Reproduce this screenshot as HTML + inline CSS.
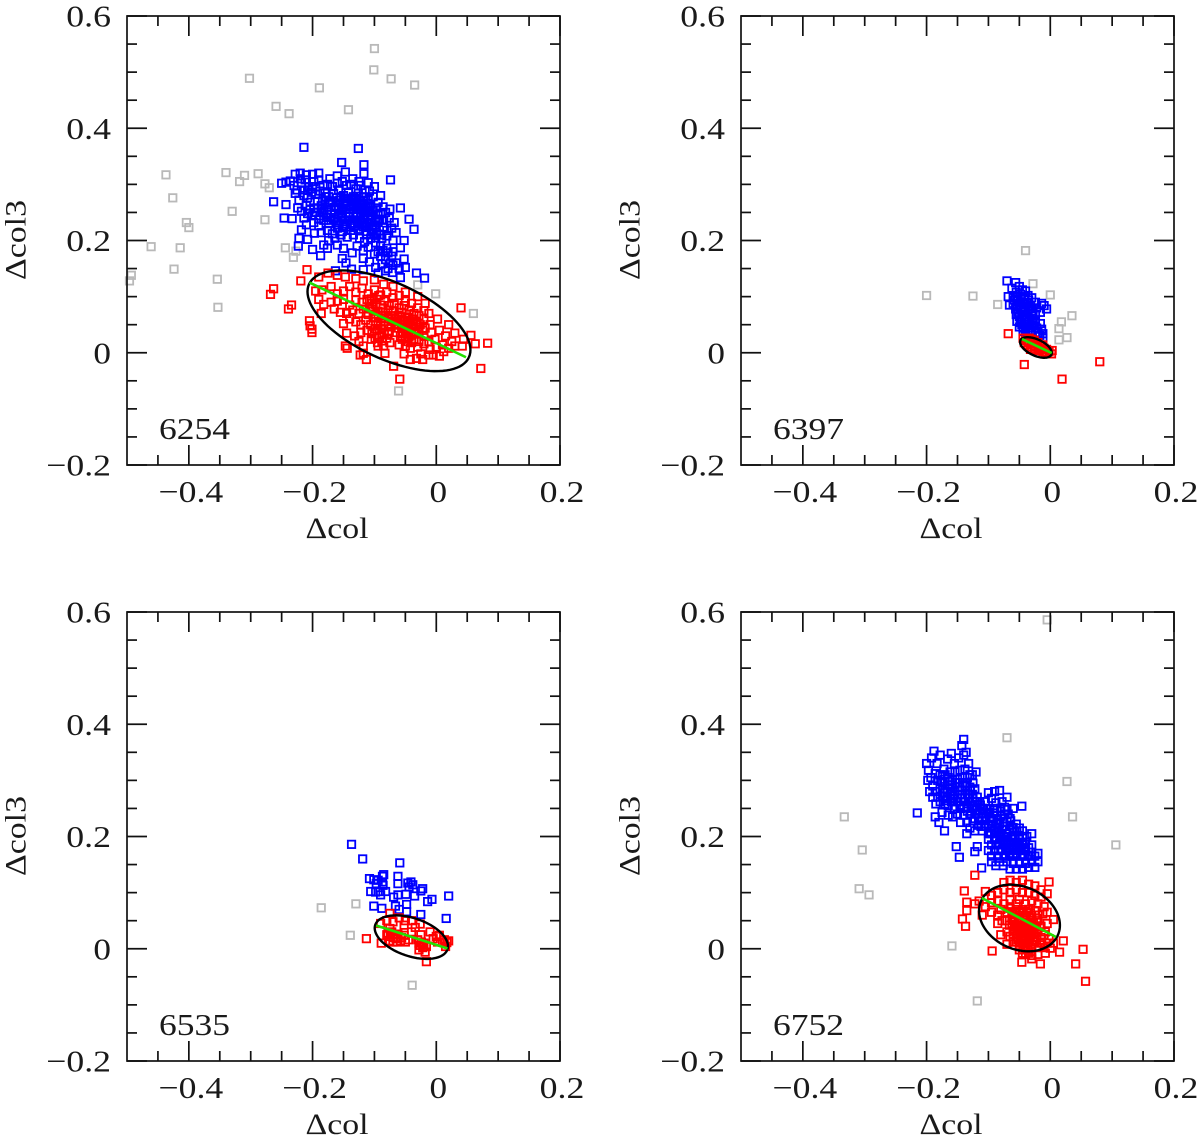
<!DOCTYPE html>
<html>
<head>
<meta charset="utf-8">
<title>Four-panel colour-colour scatter</title>
<style>
html,body{margin:0;padding:0;background:#fff}
svg{display:block;filter:blur(0.35px)}
text{font-family:"Liberation Serif",serif;fill:#1a1a1a}
</style>
</head>
<body>
<svg id="chart" xmlns="http://www.w3.org/2000/svg" width="1200" height="1139" viewBox="0 0 1200 1139"></svg>
<script>
const xTickValues = [-0.4, -0.2, 0, 0.2];
const xTickLabels = ["\u22120.4", "\u22120.2", "0", "0.2"];
const yTickValues = [-0.2, 0, 0.2, 0.4, 0.6];
const yTickLabels = ["\u22120.2", "0", "0.2", "0.4", "0.6"];
const xMinorTicks = [-0.45,-0.35,-0.3,-0.25,-0.15,-0.1,-0.05,0.05,0.1,0.15];
const yMinorTicks = [-0.15,-0.1,-0.05,0.05,0.1,0.15,0.25,0.3,0.35,0.45,0.5,0.55];
const xDomain = [-0.5, 0.2];
const yDomain = [-0.2, 0.6];
const panelNames = ["6254", "6397", "6535", "6752"];

const gray6254 = [[-.1,.542],[-.101,.504],[-.073,.488],[-.035,.477],[-.302,.489],[-.189,.472],[-.259,.439],[-.238,.426],[-.142,.433],[-.437,.317],[-.34,.321],[-.31,.316],[-.288,.319],[-.318,.305],[-.277,.301],[-.27,.294],[-.426,.276],[-.33,.252],[-.277,.237],[-.404,.232],[-.4,.223],[-.461,.189],[-.414,.187],[-.244,.187],[-.227,.181],[-.231,.17],[-.424,.149],[-.493,.138],[-.496,.128],[-.354,.131],[-.353,.081],[-.03,.121],[-.001,.105],[.06,.07],[-.061,-.068]];
const blue6254 = [[-.214,.366],[-.126,.364],[-.153,.339],[-.117,.335],[-.117,.319],[-.074,.308],[-.263,.269],[-.243,.264],[-.246,.24],[-.233,.239],[-.036,.22],[-.044,.238],[-.058,.258],[-.052,.2],[-.058,.187],[-.052,.167],[-.05,.152],[-.032,.142],[-.019,.133],[-.058,.134],[-.163,.146],[-.137,.149],[-.2,.184],[-.187,.173],[-.222,.204],[-.223,.19],[-.208,.202],[-.218,.219],[-.197,.213],
[-.25,.302],[-.243,.304],[-.236,.306],[-.228,.318],[-.22,.32],[-.21,.317],[-.2,.318],[-.19,.32],[-.172,.31],[-.16,.315],[-.147,.322],[-.135,.31],[-.125,.305],[-.11,.303],[-.1,.296],[-.09,.28],
[-.23,.298],[-.225,.29],[-.218,.302],[-.212,.308],[-.206,.296],[-.198,.305],[-.19,.308],[-.183,.298],[-.176,.3],[-.168,.296],[-.16,.302],[-.152,.305],[-.145,.298],[-.138,.3],[-.13,.292],[-.122,.298],[-.115,.29],[-.108,.288],
[-.228,.284],[-.222,.272],[-.214,.28],[-.208,.276],[-.202,.286],[-.195,.282],[-.188,.288],[-.18,.284],[-.174,.278],[-.166,.284],[-.158,.29],[-.15,.28],[-.142,.286],[-.134,.278],[-.126,.284],[-.118,.278],[-.11,.272],[-.102,.278],[-.094,.268],[-.086,.26],
[-.224,.258],[-.218,.252],[-.21,.262],[-.204,.268],[-.198,.258],[-.192,.27],[-.186,.262],[-.18,.272],[-.174,.264],[-.168,.27],[-.162,.262],[-.156,.272],[-.15,.264],[-.144,.27],[-.138,.262],[-.132,.268],[-.126,.26],[-.12,.266],[-.114,.258],[-.108,.262],[-.102,.254],[-.096,.258],[-.09,.248],[-.082,.25],[-.075,.256],
[-.214,.24],[-.208,.248],[-.2,.244],[-.194,.25],[-.188,.244],[-.182,.252],[-.176,.246],[-.17,.254],[-.164,.248],[-.158,.256],[-.152,.25],[-.146,.256],[-.14,.25],[-.134,.256],[-.128,.25],[-.122,.254],[-.116,.246],[-.11,.25],[-.104,.244],[-.098,.246],[-.092,.238],[-.085,.236],[-.076,.24],[-.068,.232],
[-.21,.228],[-.198,.232],[-.19,.226],[-.182,.236],[-.174,.23],[-.166,.238],[-.16,.232],[-.154,.24],[-.148,.234],[-.142,.242],[-.136,.236],[-.13,.242],[-.124,.236],[-.118,.24],[-.112,.232],[-.106,.236],[-.1,.228],[-.094,.232],[-.086,.224],[-.08,.218],[-.072,.222],[-.065,.214],
[-.186,.214],[-.176,.218],[-.168,.212],[-.16,.222],[-.152,.216],[-.146,.224],[-.138,.218],[-.132,.226],[-.126,.22],[-.118,.224],[-.112,.216],[-.104,.22],[-.096,.212],[-.088,.204],[-.08,.208],[-.07,.2],
[-.174,.2],[-.164,.204],[-.154,.21],[-.144,.206],[-.134,.21],[-.124,.204],[-.116,.198],[-.106,.204],[-.098,.196],[-.09,.19],[-.08,.186],[-.07,.18],
[-.182,.192],[-.176,.186],[-.16,.192],[-.15,.186],[-.136,.178],[-.128,.19],[-.118,.182],[-.11,.188],[-.1,.176],[-.09,.172],[-.082,.166],[-.072,.172],[-.065,.16],
[-.152,.168],[-.146,.16],[-.118,.168],[-.108,.162],[-.098,.152],[-.088,.158],[-.078,.15],[-.07,.156],[-.06,.15],[-.118,.148],[-.094,.142],[-.082,.146],[-.071,.143]];
const blueCore6254 = [[-.171,.268],[-.165,.259],[-.159,.267],[-.153,.258],[-.147,.267],[-.141,.257],[-.135,.265],[-.129,.257],[-.123,.263],[-.117,.255],[-.111,.26],[-.105,.252],[-.176,.255],[-.17,.247],[-.164,.241],[-.158,.247],[-.152,.243],[-.146,.247],[-.14,.243],[-.134,.247],[-.128,.243],[-.122,.247],[-.116,.238],[-.11,.243],[-.104,.237],[-.098,.238],[-.142,.275],[-.137,.272],[-.161,.276],[-.154,.278],[-.147,.275],[-.129,.275],[-.123,.272],[-.117,.27],[-.111,.266],[-.185,.255],[-.191,.258],[-.197,.25],[-.204,.256],[-.158,.228],[-.151,.226],[-.145,.23],[-.139,.228],[-.133,.231],[-.127,.229],[-.121,.23],[-.115,.226],[-.109,.226],[-.103,.226],[-.097,.222],[-.178,.241],[-.17,.236],[-.19,.238],[-.184,.27],[-.178,.278],[-.215,.29],[-.208,.29],[-.2,.292],[-.195,.296],[-.22,.31],[-.126,.272],[-.119,.232],[-.113,.21],[-.105,.212],[-.098,.205],[-.09,.21],[-.094,.18],[-.086,.182],[-.078,.178],[-.074,.16]];
const red6254 = [[-.209,.148],[-.219,.128],[-.263,.114],[-.268,.104],[-.234,.085],[-.239,.078],[-.205,.057],[-.204,.048],[-.201,.042],[-.201,.036],[.04,.08],[.083,.017],[.063,.016],[.056,.031],[.072,-.028],[-.059,-.047],[-.069,-.024],[-.144,.008],[-.123,-.004],[-.113,-.012],
[-.19,.135],[-.175,.142],[-.16,.138],[-.147,.135],[-.13,.132],[-.118,.128],[-.1,.13],[-.085,.122],[-.07,.118],[-.05,.108],[-.03,.1],[-.018,.088],[-.012,.07],[.002,.06],[.02,.05],[.03,.035],[.025,.02],[.042,.012],
[-.195,.11],[-.185,.112],[-.17,.118],[-.16,.105],[-.15,.11],[-.14,.118],[-.13,.108],[-.12,.115],[-.11,.105],[-.1,.112],[-.09,.103],[-.08,.108],[-.07,.098],[-.06,.102],[-.05,.092],[-.04,.088],[-.03,.08],[-.02,.075],
[-.19,.095],[-.182,.086],[-.17,.09],[-.16,.092],[-.15,.095],[-.14,.085],[-.13,.094],[-.12,.09],[-.112,.095],[-.104,.088],[-.096,.095],[-.09,.085],[-.084,.092],[-.076,.084],[-.068,.088],[-.06,.08],[-.052,.084],[-.044,.076],[-.036,.07],[-.028,.066],[-.02,.06],[-.01,.05],[.005,.04],[.015,.03],
[-.186,.07],[-.165,.078],[-.155,.072],[-.145,.07],[-.135,.076],[-.125,.07],[-.118,.078],[-.11,.068],[-.102,.074],[-.094,.066],[-.086,.072],[-.078,.066],[-.07,.074],[-.062,.066],[-.056,.072],[-.05,.064],[-.044,.068],[-.038,.06],[-.032,.056],[-.026,.05],[-.018,.044],[-.008,.036],
[-.15,.052],[-.14,.06],[-.13,.055],[-.122,.05],[-.114,.058],[-.106,.05],[-.098,.056],[-.09,.048],[-.084,.056],[-.078,.05],[-.07,.056],[-.064,.05],[-.058,.056],[-.052,.05],[-.046,.054],[-.04,.046],[-.034,.042],[-.028,.036],[-.02,.03],[-.012,.02],[-.002,.024],[.01,.014],[.02,.008],[.03,.012],[.044,.024],
[-.145,.035],[-.132,.03],[-.122,.036],[-.112,.04],[-.104,.034],[-.096,.04],[-.088,.032],[-.08,.026],[-.076,.038],[-.066,.036],[-.058,.03],[-.05,.036],[-.044,.028],[-.036,.024],[-.028,.02],[-.02,.016],[-.01,.006],[0,.01],[.012,.002],
[-.147,.012],[-.125,.02],[-.118,.012],[-.105,.024],[-.095,.018],[-.085,.012],[-.075,.018],[-.06,.014],[-.05,.012],[-.042,.008],[-.03,.01],[-.025,-.002],[-.012,-.004],[-.005,-.004],[.005,-.006],[-.118,-.001],[-.083,-.001],[-.052,-.002],[-.042,-.012],[-.032,-.01],[-.022,-.012]];
const redCore6254 = [[-.104,.078],[-.099,.069],[-.094,.074],[-.089,.062],[-.083,.066],[-.077,.06],[-.072,.066],[-.067,.062],[-.062,.06],[-.057,.064],[-.052,.058],[-.047,.062],[-.042,.056],[-.037,.052],[-.067,.052],[-.073,.046],[-.063,.044],[-.056,.046],[-.05,.042],[-.046,.04],[-.041,.036],[-.036,.034],[-.099,.043],[-.094,.05],[-.088,.042],[-.084,.036],[-.078,.034],[-.1,.062],[-.105,.096],[-.098,.086],[-.093,.102],[-.086,.08],[-.108,.08],[-.078,.076],[-.055,.034],[-.05,.026],[-.046,.02],[-.04,.018],[-.055,.024],[-.092,.028],[-.099,.026],[-.094,.012],[-.088,.021],[-.033,.05],[-.028,.046],[-.022,.04]];

const gray6397 = [[-.2,.102],[-.125,.101],[-.085,.086],[-.04,.182],[-.028,.123],[0,.103],[.035,.066],[.018,.055],[.014,.043],[.027,.027],[.014,.023]];
const blue6397 = [[-.07,.128],[-.056,.125],[-.05,.118],[-.062,.115],[-.045,.112],[-.055,.108],[-.068,.1],[-.06,.098],[-.048,.104],[-.04,.11],[-.036,.102],[-.03,.098],[-.042,.095],[-.052,.092],[-.066,.085],[-.06,.088],[-.05,.085],[-.044,.088],[-.038,.09],[-.032,.084],[-.024,.09],[-.056,.078],[-.048,.076],[-.042,.08],[-.036,.076],[-.028,.074],[-.022,.08],[-.014,.088],[-.01,.084],[-.006,.078],[-.055,.068],[-.05,.064],[-.044,.068],[-.038,.064],[-.03,.066],[-.024,.068],[-.016,.072],[-.054,.056],[-.048,.054],[-.042,.058],[-.036,.054],[-.03,.05],[-.024,.056],[-.05,.046],[-.044,.044],[-.038,.048],[-.03,.04],[-.022,.044],[-.016,.052],[-.044,.038],[-.036,.038],[-.02,.036],[-.014,.042],[-.012,.034],[-.012,.026],[-.03,.031],[-.017,.031]];
const blueCore6397 = [[-.053,.1],[-.047,.096],[-.041,.1],[-.035,.094],[-.058,.094],[-.054,.084],[-.047,.08],[-.041,.072],[-.035,.082],[-.03,.078],[-.052,.072],[-.046,.06],[-.04,.06],[-.034,.06],[-.028,.058],[-.046,.05],[-.04,.042],[-.034,.044],[-.026,.048],[-.056,.1]];
const red6397 = [[-.068,.034],[-.042,-.021],[.019,-.047],[.08,-.016],[-.044,.026],[-.042,.018],[-.038,.022],[-.034,.026],[-.03,.024],[-.026,.022],[-.036,.014],[-.03,.016],[-.024,.012],[-.02,.018],[-.016,.008],[-.012,.014],[-.018,.004],[-.012,.002],[-.006,.006],[-.002,.002],[.002,-.002],[-.008,-.001],[.003,.004],[-.026,.006],[-.02,.01],[-.014,.006]];
const redCore6397 = [[-.03,.01],[-.035,.02],[-.028,.018],[-.022,.016],[-.016,.014],[-.01,.008],[-.006,.001],[-.024,.004],[-.04,.022],[-.032,.006]];

const gray6535 = [[-.186,.073],[-.13,.08],[-.139,.024],[-.039,-.065]];
const blue6535 = [[-.137,.186],[-.119,.16],[-.059,.153],[-.085,.132],[-.087,.129],[-.108,.125],[-.101,.123],[-.094,.122],[-.087,.119],[-.097,.116],[-.086,.113],[-.062,.129],[-.062,.116],[-.046,.117],[-.041,.119],[-.038,.114],[-.044,.11],[-.106,.102],[-.098,.101],[-.091,.102],[-.082,.102],[-.09,.096],[-.069,.092],[-.062,.096],[-.049,.097],[-.035,.094],[-.025,.103],[-.022,.107],[-.014,.084],[-.007,.088],[.02,.094],[-.101,.076],[-.088,.072],[-.066,.076],[-.06,.07],[-.048,.079],[-.048,.066],[-.025,.061],[.016,.054]];
const blueCore6535 = [];
const red6535 = [[-.113,.018],[-.089,.01],[-.016,-.023],[-.075,.063],[-.09,.045],[-.08,.05],[-.07,.048],[-.06,.055],[-.05,.05],[-.052,.042],[-.04,.05],[-.026,.044],[-.075,.036],[-.072,.03],[-.08,.025],[-.07,.02],[-.075,.014],[-.065,.018],[-.062,.026],[-.058,.014],[-.052,.024],[-.05,.012],[-.045,.016],[-.04,.03],[-.034,.038],[-.03,.016],[-.025,.025],[-.02,.01],[-.026,.006],[-.022,.002],[-.016,.004],[-.018,-.006],[-.01,.03],[-.005,.018],[0,.022],[.002,.012],[.005,.024],[.01,.012],[.015,.004],[.013,.016],[.02,.014],[.017,.011]];
const redCore6535 = [[-.078,.028],[-.074,.022],[-.068,.026],[-.064,.012],[-.07,.012],[-.062,.02],[-.056,.02],[-.028,.01],[-.024,.012],[-.02,.004],[-.028,-.002]];

const gray6752 = [[-.005,.586],[-.07,.376],[.027,.298],[.036,.235],[.106,.185],[-.333,.235],[-.304,.176],[-.309,.107],[-.293,.096],[-.159,.005],[-.118,-.093]];
const blue6752 = [[-.215,.242],[-.186,.235],[-.18,.225],[-.171,.21],[-.152,.182],[-.147,.163],[-.122,.173],[-.118,.182],[-.111,.144],[-.046,.254],[-.14,.373],
[-.2,.33],[-.197,.318],[-.192,.34],[-.188,.352],[-.183,.33],[-.178,.345],[-.172,.32],[-.166,.338],[-.16,.348],[-.155,.33],[-.148,.34],[-.143,.362],[-.14,.345],[-.136,.35],[-.132,.33],[-.126,.31],[-.12,.315],
[-.198,.3],[-.193,.305],[-.19,.29],[-.186,.312],[-.182,.3],[-.178,.31],[-.174,.295],[-.17,.31],[-.166,.298],[-.162,.315],[-.158,.3],[-.154,.315],[-.15,.302],[-.146,.318],[-.142,.305],[-.138,.32],[-.134,.305],[-.13,.31],[-.125,.295],
[-.195,.28],[-.19,.27],[-.186,.28],[-.182,.27],[-.178,.285],[-.174,.272],[-.17,.285],[-.166,.27],[-.162,.285],[-.158,.272],[-.154,.288],[-.15,.274],[-.146,.288],[-.142,.274],[-.138,.29],[-.134,.275],[-.13,.288],[-.126,.275],[-.122,.285],[-.118,.27],
[-.185,.258],[-.178,.262],[-.17,.258],[-.165,.255],[-.16,.262],[-.155,.25],[-.15,.262],[-.145,.25],[-.14,.262],[-.135,.252],[-.13,.262],[-.126,.25],[-.122,.262],[-.118,.252],[-.114,.262],[-.11,.25],[-.105,.262],[-.1,.278],[-.095,.268],[-.09,.28],[-.082,.282],[-.07,.27],[-.078,.262],[-.088,.26],
[-.175,.243],[-.165,.238],[-.158,.235],[-.15,.24],[-.145,.225],[-.14,.238],[-.135,.225],[-.13,.24],[-.125,.228],[-.12,.24],[-.115,.228],[-.11,.24],[-.105,.228],[-.1,.24],[-.095,.228],[-.09,.242],[-.085,.23],[-.08,.245],[-.075,.232],[-.07,.248],[-.065,.232],[-.06,.25],
[-.13,.215],[-.122,.21],[-.116,.22],[-.11,.21],[-.105,.218],[-.1,.205],[-.095,.215],[-.09,.205],[-.085,.215],[-.08,.205],[-.075,.218],[-.07,.205],[-.065,.22],[-.06,.208],[-.055,.222],[-.05,.215],[-.045,.21],[-.038,.2],[-.03,.205],
[-.135,.205],[-.1,.195],[-.095,.185],[-.09,.195],[-.085,.185],[-.08,.195],[-.075,.185],[-.07,.195],[-.065,.185],[-.06,.195],[-.055,.185],[-.05,.195],[-.045,.185],[-.04,.19],[-.035,.18],[-.03,.185],
[-.1,.175],[-.095,.165],[-.09,.175],[-.085,.165],[-.08,.175],[-.075,.165],[-.07,.175],[-.065,.165],[-.06,.175],[-.055,.165],[-.05,.175],[-.045,.165],[-.04,.175],[-.035,.165],[-.03,.172],[-.025,.165],[-.02,.17],
[-.095,.155],[-.088,.148],[-.082,.155],[-.076,.148],[-.07,.155],[-.065,.142],[-.06,.152],[-.055,.142],[-.05,.152],[-.045,.142],[-.04,.152],[-.035,.145],[-.03,.155],[-.025,.145],[-.02,.155]];
const blueCore6752 = [[-.177,.298],[-.171,.302],[-.165,.305],[-.159,.292],[-.153,.296],[-.147,.296],[-.141,.296],[-.135,.295],[-.129,.282],[-.172,.278],[-.167,.28],[-.161,.276],[-.155,.28],[-.149,.282],[-.143,.282],[-.137,.282],[-.131,.275],[-.125,.268],[-.119,.262],[-.113,.256],[-.168,.264],[-.162,.268],[-.156,.262],[-.15,.268],[-.144,.268],[-.138,.268],[-.132,.268],[-.126,.255],[-.12,.247],[-.114,.245],[-.108,.25],[-.102,.25],[-.098,.243],[-.092,.25],[-.086,.25],[-.08,.25],[-.074,.252],[-.146,.256],[-.14,.253],[-.134,.245],[-.128,.24],[-.122,.232],[-.116,.234],[-.11,.228],[-.104,.234],[-.098,.232],[-.092,.232],[-.086,.238],[-.08,.236],[-.074,.24],[-.068,.24],[-.112,.218],[-.106,.222],[-.1,.222],[-.094,.222],[-.088,.222],[-.082,.222],[-.076,.226],[-.07,.226],[-.064,.228],[-.096,.205],[-.09,.212],[-.084,.208],[-.078,.212],[-.072,.212],[-.066,.212],[-.06,.216],[-.054,.21],[-.087,.198],[-.081,.2],[-.075,.2],[-.069,.2],[-.063,.2],[-.057,.202],[-.051,.2],[-.045,.2],[-.088,.185],[-.082,.188],[-.076,.19],[-.07,.188],[-.064,.19],[-.058,.19],[-.052,.188],[-.046,.19],[-.084,.175],[-.078,.178],[-.072,.18],[-.066,.178],[-.06,.18],[-.054,.178],[-.048,.178],[-.042,.18],[-.072,.165],[-.066,.17],[-.06,.168],[-.054,.17],[-.048,.168],[-.042,.168]];
const red6752 = [[-.122,.131],[-.139,.103],[-.135,.083],[-.135,.068],[-.142,.053],[-.137,.04],[-.122,.08],[-.094,-.004],[-.046,-.024],[-.016,-.027],[.041,-.027],[.053,-.001],[.057,-.058],[.021,.014],[.015,-.006],[-.002,.119],
[-.075,.118],[-.065,.122],[-.055,.118],[-.045,.122],[-.035,.115],[-.025,.112],[-.015,.105],[-.105,.102],[-.095,.095],[-.085,.1],[-.075,.105],[-.065,.1],[-.055,.105],[-.045,.1],[-.035,.1],[-.025,.095],[-.015,.092],[-.005,.098],
[-.115,.085],[-.105,.075],[-.095,.082],[-.085,.085],[-.075,.08],[-.065,.088],[-.055,.08],[-.05,.088],[-.04,.08],[-.03,.085],[-.02,.08],[-.01,.075],[-.005,.065],[.005,.052],
[-.11,.06],[-.095,.065],[-.085,.06],[-.08,.07],[-.07,.065],[-.065,.072],[-.06,.062],[-.055,.07],[-.05,.06],[-.045,.07],[-.04,.06],[-.035,.07],[-.03,.06],[-.025,.068],[-.02,.06],[-.012,.062],[-.005,.045],
[-.085,.045],[-.078,.05],[-.07,.05],[-.066,.042],[-.06,.052],[-.055,.042],[-.05,.05],[-.045,.04],[-.04,.05],[-.035,.04],[-.03,.05],[-.025,.04],[-.02,.05],[-.015,.04],[-.008,.03],
[-.08,.025],[-.07,.03],[-.065,.022],[-.06,.032],[-.055,.022],[-.05,.032],[-.045,.022],[-.04,.03],[-.035,.02],[-.03,.03],[-.025,.02],[-.02,.03],[-.015,.02],[-.01,.025],[-.002,.018],[.005,.01],
[-.07,.008],[-.06,.012],[-.05,.006],[-.045,.014],[-.04,.004],[-.035,.012],[-.03,.002],[-.025,.012],[-.02,.002],[-.015,.01],[-.01,.002],[-.005,.01],[0,.001],[-.045,-.008],[-.04,-.01],[-.035,-.008],[-.03,-.012],[-.02,-.01],[-.008,-.008],[-.03,-.018]];
const redCore6752 = [[-.062,.056],[-.057,.048],[-.052,.055],[-.047,.046],[-.042,.054],[-.037,.046],[-.032,.055],[-.027,.045],[-.022,.054],[-.058,.036],[-.052,.037],[-.047,.034],[-.042,.037],[-.037,.034],[-.032,.036],[-.027,.034],[-.022,.036],[-.054,.026],[-.048,.027],[-.042,.024],[-.036,.026],[-.032,.024],[-.026,.026],[-.052,.016],[-.046,.018],[-.04,.014],[-.034,.017],[-.028,.016],[-.022,.016],[-.062,.066],[-.056,.064],[-.05,.066],[-.044,.064],[-.038,.064],[-.032,.064],[-.062,.044],[-.06,.026],[-.055,.012],[-.048,.01],[-.042,.009],[-.036,.004],[-.03,.008],[-.05,-.002],[-.044,-.001],[-.036,-.002]];

const ellipse6254 = {center:[-.0765,.057], major:[.0527,-.0082], minor:[-.0509,.1187]};
const ellipse6397 = {center:[-.0232,.0094], major:[.0018,-.0034], minor:[-.0176,.0225]};
const ellipse6535 = {center:[-.0403,.0207], major:[.0181,-.0011], minor:[-.0304,.0528]};
const ellipse6752 = {center:[-.0498,.0548], major:[.0123,.0244], minor:[-.0294,.1058]};
const fit6254 = [[-.205,.125],[.048,-.008]];
const fit6397 = [[-.0457,.0244],[.0023,-.0005]];
const fit6535 = [[-.0972,.0415],[.0181,.0005]];
const fit6752 = [[-.1107,.0904],[.0092,.0209]];

const panels = [
 {name:panelNames[0], left:127, top:16, gray:gray6254, blue:blue6254.concat(blueCore6254), red:red6254.concat(redCore6254), ellipse:ellipse6254, fit:fit6254},
 {name:panelNames[1], left:741, top:16, gray:gray6397, blue:blue6397.concat(blueCore6397), red:red6397.concat(redCore6397), ellipse:ellipse6397, fit:fit6397},
 {name:panelNames[2], left:127, top:612, gray:gray6535, blue:blue6535.concat(blueCore6535), red:red6535.concat(redCore6535), ellipse:ellipse6535, fit:fit6535},
 {name:panelNames[3], left:741, top:612, gray:gray6752, blue:blue6752.concat(blueCore6752), red:red6752.concat(redCore6752), ellipse:ellipse6752, fit:fit6752}
];

const NS = "http://www.w3.org/2000/svg";
const W = 433, H = 449, INK = "#111";
const svg = document.getElementById("chart");

function make(tag, attrs, parent) {
  const el = document.createElementNS(NS, tag);
  for (const k in attrs) el.setAttribute(k, attrs[k]);
  parent.appendChild(el);
  return el;
}
function labelWidth(s) {
  let w = 0;
  for (const c of s) w += c === "\u2212" ? 20 : c === "." ? 9.5 : 17.6;
  return w;
}
function addText(parent, str, x, y, anchor, fs, len) {
  const t = make("text", {x:x, y:y, "text-anchor":anchor, "font-size":fs, textLength:len, lengthAdjust:"spacingAndGlyphs"}, parent);
  t.textContent = str;
  return t;
}

panels.forEach(function (p) {
  const sx = v => p.left + (v - xDomain[0]) / (xDomain[1] - xDomain[0]) * W;
  const sy = v => p.top + H - (v - yDomain[0]) / (yDomain[1] - yDomain[0]) * H;

  const g = make("g", {}, svg);
  
  

  function series(points, color, label) {
    const sg = make("g", {fill:"none", stroke:color, "stroke-width":1.8}, g);
    
    
    points.forEach(function (pt) {
      const r = make("rect", {x:sx(pt[0]) - 3.7, y:sy(pt[1]) - 3.7, width:7.4, height:7.4}, sg);
      
      
    });
  }
  series(p.gray, "#b9b9b9", "gray");
  series(p.blue, "#0000ff", "blue");
  series(p.red, "#ff0000", "red");

  // confidence ellipse built from its data-space centre and conjugate axes
  const e = p.ellipse;
  let pts = "";
  for (let i = 0; i <= 96; i++) {
    const t = i / 96 * Math.PI * 2, c = Math.cos(t), s = Math.sin(t);
    const dx = e.center[0] + c * (e.major[0] - e.center[0]) + s * (e.minor[0] - e.center[0]);
    const dy = e.center[1] + c * (e.major[1] - e.center[1]) + s * (e.minor[1] - e.center[1]);
    pts += sx(dx).toFixed(2) + "," + sy(dy).toFixed(2) + " ";
  }
  const ell = make("polyline", {points:pts, fill:"none", stroke:"#000", "stroke-width":2.4}, g);
  
  

  const fit = make("line", {x1:sx(p.fit[0][0]), y1:sy(p.fit[0][1]), x2:sx(p.fit[1][0]), y2:sy(p.fit[1][1]), stroke:"#22e000", "stroke-width":2.6}, g);
  
  

  const frame = make("rect", {x:p.left, y:p.top, width:W, height:H, fill:"none", stroke:INK, "stroke-width":1.7}, g);
  
  

  const axes = make("g", {stroke:INK, "stroke-width":1.7}, g);
  
  
  function xTick(v, len) {
    make("line", {x1:sx(v), x2:sx(v), y1:p.top + H, y2:p.top + H - len}, axes);
    make("line", {x1:sx(v), x2:sx(v), y1:p.top, y2:p.top + len}, axes);
  }
  function yTick(v, len) {
    make("line", {x1:p.left, x2:p.left + len, y1:sy(v), y2:sy(v)}, axes);
    make("line", {x1:p.left + W, x2:p.left + W - len, y1:sy(v), y2:sy(v)}, axes);
  }
  xMinorTicks.forEach(v => xTick(v, 10));
  xTickValues.forEach(v => xTick(v, 20));
  yMinorTicks.forEach(v => yTick(v, 10));
  yTickValues.forEach(v => yTick(v, 20));

  xTickValues.forEach(function (v, i) {
    const t = addText(g, xTickLabels[i], sx(v) + 2, p.top + H + 37, "middle", 31, labelWidth(xTickLabels[i]));
    
    
  });
  yTickValues.forEach(function (v, i) {
    const t = addText(g, yTickLabels[i], p.left - 16, sy(v) + 10.5, "end", 31, labelWidth(yTickLabels[i]));
    
    
  });

  const xl = addText(g, "\u0394col", p.left + 210, p.top + H + 73, "middle", 30, 63);
  
  

  const yl = addText(g, "\u0394col3", 0, 0, "middle", 30, 80);
  yl.setAttribute('transform', 'translate(' + (p.left - 101.5) + ' ' + (p.top + 224) + ') rotate(-90)');
  
  

  const tag = addText(g, p.name, p.left + 32, p.top + 423, "start", 31, 71);
  
  
});
</script>
</body>
</html>
